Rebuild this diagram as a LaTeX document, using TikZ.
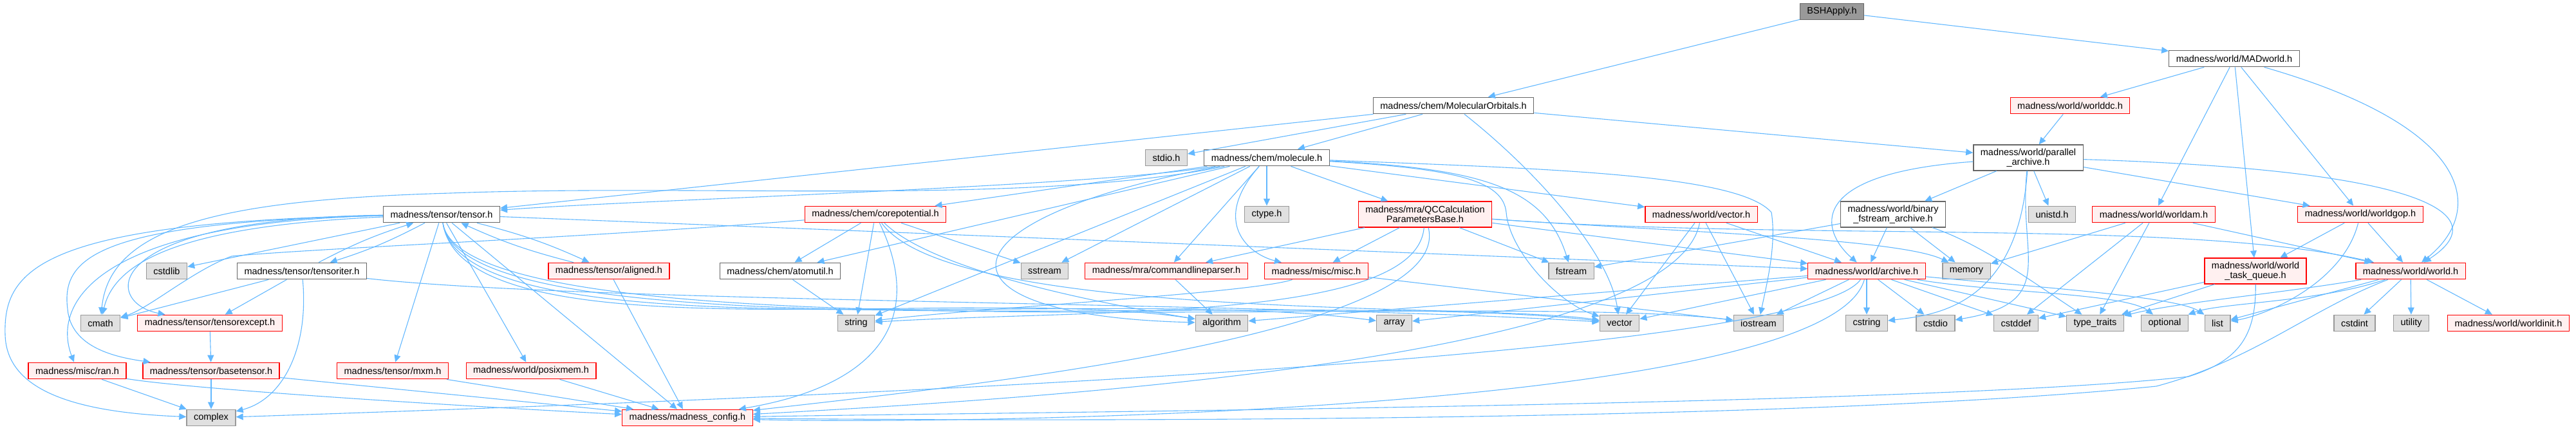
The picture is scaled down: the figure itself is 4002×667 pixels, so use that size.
\documentclass[tikz,border=0pt]{standalone}
\usepackage{fontspec}
\setmainfont{Liberation Sans}
\usetikzlibrary{arrows.meta}

\definecolor{edgeblue}{HTML}{63B8FF}
\definecolor{boxgrey}{HTML}{666666}
\definecolor{sysline}{HTML}{999999}
\definecolor{sysfill}{HTML}{E0E0E0}
\definecolor{truncfill}{HTML}{FFF0F0}
\definecolor{rootfill}{HTML}{999999}

\begin{document}
\begin{tikzpicture}[x=1pt,y=-1pt,line join=miter,
    box/.style={draw,line width=1.3pt,inner xsep=11pt,inner ysep=0pt,
                minimum height=25.5pt,align=center,
                font=\fontsize{14.5pt}{15pt}\selectfont},
    filebox/.style={box,draw=boxgrey,fill=white},
    truncbox/.style={box,draw=red,fill=truncfill},
    sysbox/.style={box,draw=sysline,fill=sysfill},
    rootbox/.style={box,draw=boxgrey,fill=rootfill},
    twoline/.style={minimum height=40pt},
    dep/.style={draw=edgeblue,line width=1.1pt,-{Triangle[length=11pt,width=10pt]}}]
  \path[use as bounding box] (0,0) rectangle (4002,667);   % canvas 4002 x 667 px, y down
  % ---- nodes (centres in source px) ----
  % rank 0-3
  \node[rootbox]  (bsh)      at (2846, 18) {BSHApply.h};
  \node[filebox]  (madworld) at (3471, 91) {madness/world/MADworld.h};
  \node[filebox]  (molorb)   at (2258,164) {madness/chem/MolecularOrbitals.h};
  \node[truncbox] (worlddc)  at (3216,164) {madness/world/worlddc.h};
  \node[sysbox]   (stdioh)   at (1812,245) {stdio.h};
  \node[filebox]  (molecule) at (1968,245) {madness/chem/molecule.h};
  \node[filebox,twoline] (parar) at (3151,245) {madness/world/parallel\\\_archive.h};
  % rank 4
  \node[filebox]  (tensor)   at ( 686,333) {madness/tensor/tensor.h};
  \node[truncbox] (corepot)  at (1360,333) {madness/chem/corepotential.h};
  \node[sysbox]   (ctype)    at (1968,333) {ctype.h};
  \node[truncbox,twoline] (qccalc) at (2214,333) {madness/mra/QCCalculation\\ParametersBase.h};
  \node[truncbox] (wvector)  at (2643,333) {madness/world/vector.h};
  \node[filebox,twoline] (binfs) at (2941,333) {madness/world/binary\\\_fstream\_archive.h};
  \node[sysbox]   (unistd)   at (3188,333) {unistd.h};
  \node[truncbox] (worldam)  at (3346,333) {madness/world/worldam.h};
  \node[truncbox] (worldgop) at (3667,333) {madness/world/worldgop.h};
  % rank 5
  \node[sysbox]   (cstdlib)    at ( 259,421) {cstdlib};
  \node[filebox]  (tensoriter) at ( 469,421) {madness/tensor/tensoriter.h};
  \node[truncbox] (aligned)    at ( 946,421) {madness/tensor/aligned.h};
  \node[filebox]  (atomutil)   at (1212,421) {madness/chem/atomutil.h};
  \node[sysbox]   (sstream)    at (1623,421) {sstream};
  \node[truncbox] (cmdline)    at (1812,421) {madness/mra/commandlineparser.h};
  \node[truncbox] (misc)       at (2045,421) {madness/misc/misc.h};
  \node[sysbox]   (fstream)    at (2441,421) {fstream};
  \node[truncbox] (archive)    at (2900,421) {madness/world/archive.h};
  \node[sysbox]   (memory)     at (3055,421) {memory};
  \node[truncbox,twoline] (wtq) at (3504,421) {madness/world/world\\\_task\_queue.h};
  \node[truncbox] (world)      at (3745,421) {madness/world/world.h};
  % rank 6
  \node[sysbox]   (cmath)      at ( 156,502) {cmath};
  \node[truncbox] (tensorexcept) at (326,502) {madness/tensor/tensorexcept.h};
  \node[sysbox]   (string)     at (1330,502) {string};
  \node[sysbox]   (algorithm)  at (1898,502) {algorithm};
  \node[sysbox]   (array)      at (2166,502) {array};
  \node[sysbox]   (vector)     at (2516,502) {vector};
  \node[sysbox]   (iostream)   at (2732,502) {iostream};
  \node[sysbox]   (cstring)    at (2900,502) {cstring};
  \node[sysbox]   (cstdio)     at (3007,502) {cstdio};
  \node[sysbox]   (cstddef)    at (3132,502) {cstddef};
  \node[sysbox]   (typetraits) at (3255,502) {type\_traits};
  \node[sysbox]   (optional)   at (3363,502) {optional};
  \node[sysbox]   (list)       at (3445,502) {list};
  \node[sysbox]   (cstdint)    at (3658,502) {cstdint};
  \node[sysbox]   (utility)    at (3746,502) {utility};
  \node[truncbox] (worldinit)  at (3897,502) {madness/world/worldinit.h};
  % rank 7-8
  \node[truncbox] (ran)        at ( 120,576) {madness/misc/ran.h};
  \node[truncbox] (basetensor) at ( 328,576) {madness/tensor/basetensor.h};
  \node[truncbox] (mxm)        at ( 610,576) {madness/tensor/mxm.h};
  \node[truncbox] (posixmem)   at ( 825,576) {madness/world/posixmem.h};
  \node[sysbox]   (complex)    at ( 328,649) {complex};
  \node[truncbox] (config)     at (1068,649) {madness/madness\_config.h};
  % ---- edges, grouped by including file ----
  % BSHApply.h, MADworld.h, MolecularOrbitals.h, worlddc.h
  \draw[dep] (bsh) -- (molorb);
  \draw[dep] (bsh) -- (madworld);
  \draw[dep] (madworld) -- (worlddc);
  \draw[dep] (madworld) -- (worldam);
  \draw[dep] (madworld) -- (wtq);
  \draw[dep] (madworld) -- (worldgop);
  \draw[dep] (madworld) .. controls (3850,200) and (3860,330) .. (world);
  \draw[dep] (molorb) -- (tensor);
  \draw[dep] (molorb) -- (stdioh);
  \draw[dep] (molorb) -- (molecule);
  \draw[dep] (molorb) .. controls (2380,260) and (2500,390) .. (vector);
  \draw[dep] (molorb) -- (parar);
  \draw[dep] (worlddc) -- (parar);
  % parallel_archive.h
  \draw[dep] (parar) -- (binfs);
  \draw[dep] (parar) -- (unistd);
  \draw[dep] (parar) .. controls (2800,270) and (2830,360) .. (archive);
  \draw[dep] (parar) .. controls (3800,265) and (3870,340) .. (world);
  \draw[dep] (parar) -- (worldgop);
  \draw[dep] (parar) .. controls (3135,480) and (3000,490) .. (cstring);
  \draw[dep] (parar) .. controls (3135,400) and (3200,470) .. (cstdio);
  % molecule.h
  \draw[dep] (molecule) .. controls (1700,290) and (1000,310) .. (tensor);
  \draw[dep] (molecule) -- (corepot);
  \draw[dep] (molecule) .. controls (1600,320) and (1100,285) .. (700,300)
                        .. controls (350,310) and (170,350) .. (cmath);
  \draw[dep] (molecule) -- (ctype);
  \draw[dep] (molecule) -- (qccalc);
  \draw[dep] (molecule) -- (wvector);
  \draw[dep] (molecule) -- (cmdline);
  \draw[dep] (molecule) .. controls (1880,345) and (1940,395) .. (misc);
  \draw[dep] (molecule) -- (atomutil);
  \draw[dep] (molecule) -- (string);
  \draw[dep] (molecule) -- (sstream);
  \draw[dep] (molecule) .. controls (1450,340) and (1430,490) .. (algorithm);
  \draw[dep] (molecule) .. controls (2300,262) and (2400,290) .. (fstream);
  \draw[dep] (molecule) .. controls (2260,262) and (2335,280) .. (2340,330)
                        .. controls (2345,390) and (2420,470) .. (vector);
  \draw[dep] (molecule) .. controls (2400,262) and (2700,270) .. (2752,330)
                        .. controls (2760,380) and (2745,440) .. (iostream);
  % corepotential.h
  \draw[dep] (corepot) -- (atomutil);
  \draw[dep] (corepot) .. controls (900,370) and (500,385) .. (360,398)
                       .. controls (300,420) and (230,480) .. (cmath);
  \draw[dep] (corepot) -- (string);
  \draw[dep] (corepot) -- (sstream);
  \draw[dep] (corepot) .. controls (1450,420) and (1700,470) .. (algorithm);
  \draw[dep] (corepot) .. controls (1440,500) and (1360,600) .. (config);
  \draw[dep] (corepot) .. controls (1480,500) and (2300,470) .. (vector);
  % tensor.h
  \draw[dep] (tensor) -- (cstdlib);
  \draw[dep] (tensor) .. controls (300,350) and (180,400) .. (cmath);
  \draw[dep] (tensor) to[bend left=5] (tensoriter);
  \draw[dep] (tensoriter) to[bend left=5] (tensor);
  \draw[dep] (tensor) .. controls (150,340) and (160,470) .. (tensorexcept);
  \draw[dep] (tensor) .. controls (150,345) and (80,470) .. (ran);
  \draw[dep] (tensor) .. controls (150,345) and (95,400) .. (105,480)
                      .. controls (110,540) and (180,555) .. (basetensor);
  \draw[dep] (tensor) .. controls (60,345) and (5,420) .. (8,520)
                      .. controls (10,600) and (100,640) .. (complex);
  \draw[dep] (tensor) to[bend left=5] (aligned);
  \draw[dep] (aligned) to[bend left=5] (tensor);
  \draw[dep] (tensor) -- (mxm);
  \draw[dep] (tensor) -- (posixmem);
  \draw[dep] (tensor) -- (config);
  \draw[dep] (tensor) .. controls (720,560) and (1500,440) .. (algorithm);
  \draw[dep] (tensor) .. controls (720,560) and (1700,440) .. (array);
  \draw[dep] (tensor) .. controls (720,560) and (2000,445) .. (vector);
  \draw[dep] (tensor) .. controls (720,560) and (2300,450) .. (iostream);
  \draw[dep] (tensor) -- (archive);
  % tensoriter.h, aligned.h and the rank 7 headers
  \draw[dep] (tensoriter) -- (cmath);
  \draw[dep] (tensoriter) -- (tensorexcept);
  \draw[dep] (tensoriter) .. controls (480,540) and (440,620) .. (complex);
  \draw[dep] (tensoriter) .. controls (900,470) and (2000,470) .. (vector);
  \draw[dep] (aligned) -- (config);
  \draw[dep] (tensorexcept) -- (basetensor);
  \draw[dep] (ran) -- (complex);
  \draw[dep] (ran) .. controls (300,605) and (700,630) .. (config);
  \draw[dep] (basetensor) -- (complex);
  \draw[dep] (basetensor) -- (config);
  \draw[dep] (mxm) -- (config);
  \draw[dep] (posixmem) -- (config);
  % atomutil.h, commandlineparser.h, misc.h
  \draw[dep] (atomutil) -- (string);
  \draw[dep] (cmdline) -- (algorithm);
  \draw[dep] (misc) .. controls (1950,455) and (1500,480) .. (string);
  \draw[dep] (misc) -- (iostream);
  % QCCalculationParametersBase.h
  \draw[dep] (qccalc) -- (misc);
  \draw[dep] (qccalc) -- (cmdline);
  \draw[dep] (qccalc) -- (fstream);
  \draw[dep] (qccalc) .. controls (2200,500) and (1700,480) .. (string);
  \draw[dep] (qccalc) .. controls (2260,520) and (1500,600) .. (config);
  \draw[dep] (qccalc) -- (archive);
  \draw[dep] (qccalc) .. controls (2600,360) and (2950,370) .. (memory);
  \draw[dep] (qccalc) .. controls (2800,375) and (3400,340) .. (world);
  % world/vector.h, binary_fstream_archive.h
  \draw[dep] (wvector) -- (vector);
  \draw[dep] (wvector) -- (iostream);
  \draw[dep] (wvector) -- (archive);
  \draw[dep] (wvector) .. controls (2600,560) and (1600,620) .. (config);
  \draw[dep] (binfs) -- (archive);
  \draw[dep] (binfs) -- (memory);
  \draw[dep] (binfs) -- (fstream);
  \draw[dep] (binfs) .. controls (3080,380) and (3160,440) .. (typetraits);
  % worldam.h, world_task_queue.h, worldgop.h
  \draw[dep] (worldam) -- (memory);
  \draw[dep] (worldam) -- (cstddef);
  \draw[dep] (worldam) -- (typetraits);
  \draw[dep] (worldam) -- (world);
  \draw[dep] (wtq) -- (typetraits);
  \draw[dep] (wtq) -- (cstddef);
  \draw[dep] (wtq) .. controls (3505,520) and (3480,560) .. (3400,585)
                   .. controls (3000,630) and (1600,640) .. (config);
  \draw[dep] (worldgop) -- (wtq);
  \draw[dep] (worldgop) -- (world);
  \draw[dep] (worldgop) .. controls (3640,440) and (3520,490) .. (list);
  % world.h
  \draw[dep] (world) -- (list);
  \draw[dep] (world) .. controls (3600,470) and (3450,470) .. (optional);
  \draw[dep] (world) .. controls (3550,455) and (3380,470) .. (typetraits);
  \draw[dep] (world) -- (cstdint);
  \draw[dep] (world) -- (utility);
  \draw[dep] (world) -- (worldinit);
  \draw[dep] (world) .. controls (3590,480) and (3500,560) .. (3350,600)
                     .. controls (2800,655) and (1700,655) .. (config);
  % archive.h
  \draw[dep] (archive) -- (iostream);
  \draw[dep] (archive) -- (cstring);
  \draw[dep] (archive) -- (cstdio);
  \draw[dep] (archive) -- (cstddef);
  \draw[dep] (archive) -- (typetraits);
  \draw[dep] (archive) .. controls (3100,455) and (3300,455) .. (optional);
  \draw[dep] (archive) .. controls (3150,445) and (3380,460) .. (list);
  \draw[dep] (archive) -- (vector);
  \draw[dep] (archive) -- (array);
  \draw[dep] (archive) -- (algorithm);
  \draw[dep] (archive) .. controls (2800,560) and (1200,620) .. (complex);
  \draw[dep] (archive) .. controls (2840,640) and (1500,660) .. (config);
\end{tikzpicture}
\end{document}
